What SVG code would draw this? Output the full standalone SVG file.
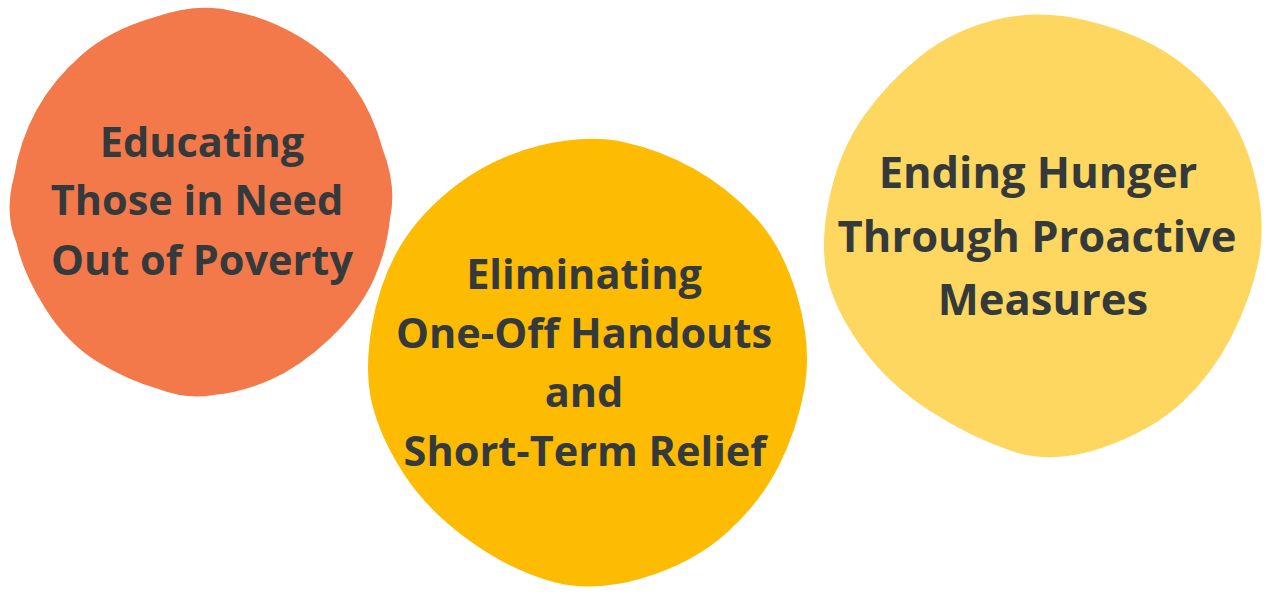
<svg xmlns="http://www.w3.org/2000/svg" width="1280" height="600" viewBox="0 0 1280 600">
<style>
.t{font-family:"Open Sans","Liberation Sans",sans-serif;font-weight:700;fill:#343a3b;text-anchor:middle}
.s1{font-size:41.5px}
.s2{font-size:43.5px}
</style>
<rect width="1280" height="600" fill="#ffffff"/>
<g id="node-educating">
<path fill="#f3794b" d="M 153.5,17.5 Q 197,2 232,11 Q 267,17 300,37 Q 333,57 353,85 Q 373,113 383,150 Q 397,187 390,218.5 Q 387,250 373.5,280 Q 360,310 330,338.5 Q 300,367 270,380 Q 240,393 213.5,395 Q 187,400 157,388.5 Q 127,380 97,361.5 Q 67,343 45,308 Q 23,273 16.5,243 Q 4,213 14,176.5 Q 20,140 36.5,110 Q 53,80 81.5,55 Q 110,30 153.5,17.5 Z"/>
<text class="t s1" x="202" y="157">Educating</text>
<text class="t s1" x="197" y="215">Those in Need</text>
<text class="t s1" x="202" y="275">Out of Poverty</text>
</g>
<g id="node-eliminating">
<path fill="#fdbc02" d="M 540,145.5 Q 587,134 623.5,142 Q 660,150 693.5,168.5 Q 727,187 755,217 Q 783,247 797.5,297 Q 812,347 804.5,388.5 Q 797,430 778.5,466.5 Q 760,503 726.5,533 Q 693,563 643,578 Q 593,593 551.5,581.5 Q 510,570 468.5,540 Q 427,510 403.5,473.5 Q 380,437 372,403.5 Q 364,370 372,325 Q 380,280 400,246.5 Q 420,213 456.5,185 Q 493,157 540,145.5 Z"/>
<text class="t s1" x="584" y="289">Eliminating</text>
<text class="t s1" x="584" y="348">One-Off Handouts</text>
<text class="t s1" x="584" y="407">and</text>
<text class="t s1" x="585" y="466">Short-Term Relief</text>
</g>
<g id="node-ending">
<path fill="#fdd75f" d="M 996.5,19.5 Q 1040,9 1088.5,21 Q 1137,33 1170,55 Q 1203,77 1225,108.5 Q 1247,140 1256.5,183.5 Q 1266,227 1258,263.5 Q 1250,300 1231.5,336.5 Q 1213,373 1183,401.5 Q 1153,430 1103,447.5 Q 1053,465 1011.5,451 Q 970,437 928.5,410 Q 887,383 860,345 Q 833,307 826.5,273.5 Q 820,240 830,195 Q 840,150 863.5,116.5 Q 887,83 920,56.5 Q 953,30 996.5,19.5 Z"/>
<text class="t s2" x="1038" y="188">Ending Hunger</text>
<text class="t s2" x="1037" y="252">Through Proactive</text>
<text class="t s2" x="1043" y="315">Measures</text>
</g>
<g id="connectors"/>
</svg>
